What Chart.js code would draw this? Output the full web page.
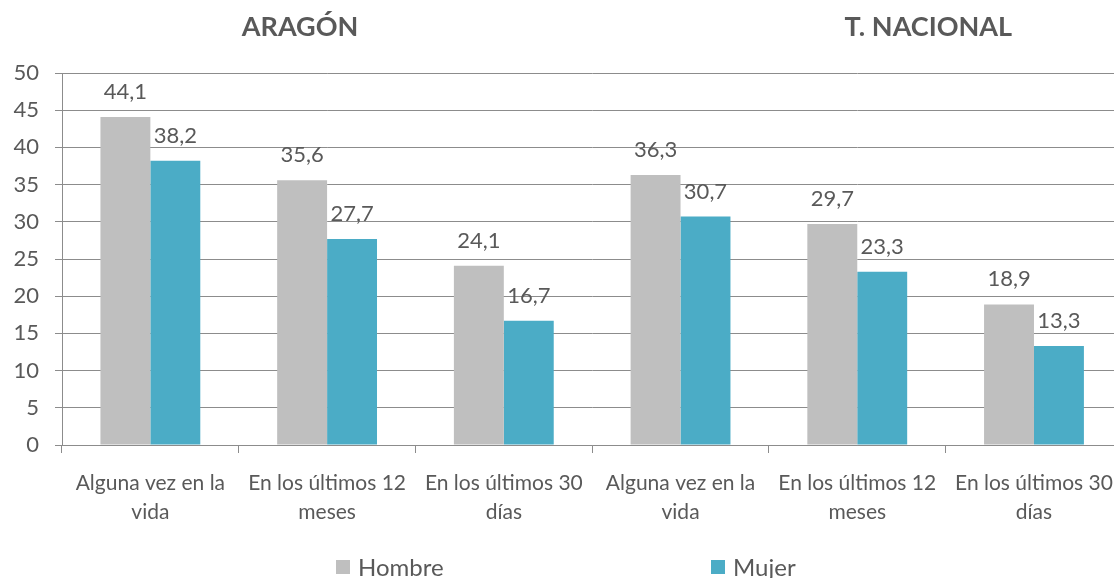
<!DOCTYPE html>
<html>
<head>
<meta charset="utf-8">
<script src="https://cdn.jsdelivr.net/npm/chart.js@4.4.1/dist/chart.umd.min.js"></script>
<style>
  html, body { margin: 0; padding: 0; background: #fff; overflow: hidden; }
  #wrap { width: 1129px; height: 578px; }
</style>
</head>
<body>
<div id="wrap"><canvas id="canvas1"></canvas></div>
<script>
// Data
let categories = [
    ["Alguna vez en la", "vida"],
    ["En los últimos 12", "meses"],
    ["En los últimos 30", "días"],
    ["Alguna vez en la", "vida"],
    ["En los últimos 12", "meses"],
    ["En los últimos 30", "días"]
];
let hombre = [44.1, 35.6, 24.1, 36.3, 29.7, 18.9];
let mujer = [38.2, 27.7, 16.7, 30.7, 23.3, 13.3];
let groupTitles = ["ARAGÓN", "T. NACIONAL"];

let textColor = "#595959";
let fontFamily = "Lato, 'Open Sans', sans-serif";

// value labels over each bar
let barLabels = {
    id: "barLabels",
    afterDatasetsDraw(chart) {
        let ctx = chart.ctx;
        ctx.save();
        ctx.font = "22px " + fontFamily;
        ctx.fillStyle = textColor;
        ctx.textAlign = "center";
        ctx.textBaseline = "bottom";
        chart.data.datasets.forEach((ds, i) => {
            chart.getDatasetMeta(i).data.forEach((bar, j) => {
                ctx.fillText(ds.data[j].toFixed(1).replace(".", ","), bar.x, bar.y - 14);
            });
        });
        ctx.restore();
    }
};

// the two group titles and the legend at the bottom
let extras = {
    id: "extras",
    afterDraw(chart) {
        let ctx = chart.ctx;
        let xs = chart.scales.x;
        ctx.save();
        ctx.font = "bold 27px " + fontFamily;
        ctx.fillStyle = textColor;
        ctx.textAlign = "center";
        ctx.textBaseline = "middle";
        ctx.fillText(groupTitles[0], xs.getPixelForValue(1) - 27, 27);
        ctx.fillText(groupTitles[1], xs.getPixelForValue(4) + 71, 27);

        ctx.font = "24px " + fontFamily;
        ctx.textAlign = "left";
        let legendX = [336, 711];
        chart.data.datasets.forEach((ds, i) => {
            ctx.fillStyle = ds.backgroundColor;
            ctx.fillRect(legendX[i], 560, 14, 14);
            ctx.fillStyle = textColor;
            ctx.fillText(ds.label, legendX[i] + 22, 568);
        });
        ctx.restore();
    }
};

let myChart1 = document.querySelector("#canvas1").getContext("2d");

let barChart = new Chart(myChart1, {
    type: "bar",
    data: {
        labels: categories,
        datasets: [
            { label: "Hombre", data: hombre, backgroundColor: "#bfbfbf" },
            { label: "Mujer", data: mujer, backgroundColor: "#4bacc6" }
        ]
    },
    options: {
        responsive: true,
        maintainAspectRatio: false,
        animation: false,
        layout: { padding: { top: 73, right: 1, bottom: 50, left: 0 } },
        datasets: { bar: { categoryPercentage: 0.565, barPercentage: 1.0 } },
        plugins: {
            legend: { display: false },
            tooltip: { enabled: false }
        },
        scales: {
            x: {
                afterFit(scale) { scale.height = 83; },
                grid: { drawOnChartArea: false, drawTicks: true, tickLength: 8, color: "#8c8c8c" },
                border: { color: "#8c8c8c", width: 1 },
                ticks: {
                    color: textColor,
                    font: { family: fontFamily, size: 21, lineHeight: 1.38 },
                    padding: 16,
                    maxRotation: 0,
                    autoSkip: false
                }
            },
            y: {
                min: 0,
                max: 50,
                afterFit(scale) { scale.width = 62; },
                grid: { color: "#8c8c8c", tickLength: 7 },
                border: { color: "#8c8c8c", width: 1 },
                ticks: {
                    stepSize: 5,
                    color: textColor,
                    font: { family: fontFamily, size: 22 },
                    padding: 16
                }
            }
        }
    },
    plugins: [barLabels, extras]
});
</script>
</body>
</html>
